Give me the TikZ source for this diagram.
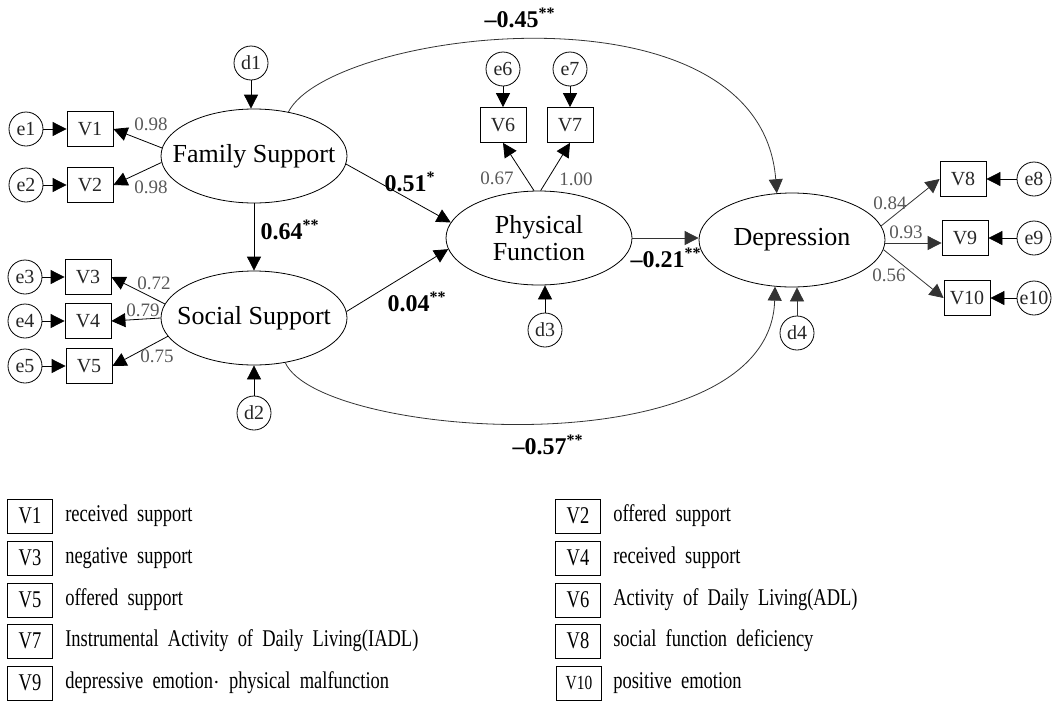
\documentclass[tikz,border=0pt]{standalone}
\usepackage{fontspec}
\setmainfont{Liberation Serif}
\newfontfamily\legendfont[FakeStretch=0.77,WordSpace=2]{Liberation Serif}
\usetikzlibrary{shapes.geometric,arrows.meta,positioning,calc}
\tikzset{%
  >={Triangle[length=7pt,width=7pt]},
  latent/.style={draw,ellipse,minimum width=93pt,minimum height=47pt,inner xsep=-12pt,inner ysep=0pt,
    align=center,font=\fontsize{13}{13.5}\selectfont},
  observed/.style={draw,rectangle,minimum width=23pt,minimum height=17.5pt,inner sep=0pt,
    text=black!85,font=\fontsize{10}{12}\selectfont},
  err/.style={draw,circle,minimum size=17pt,inner sep=0pt,text=black!85,font=\fontsize{10}{12}\selectfont},
  load/.style={text=black!65,inner sep=0pt,font=\fontsize{9.5}{11}\selectfont},
  coef/.style={inner sep=0pt,font=\bfseries\fontsize{12}{14}\selectfont},
  dep line/.style={draw=black!80,->},
  legbox/.style={draw,rectangle,minimum width=22.5pt,minimum height=17pt,inner sep=0pt,
    font=\legendfont\fontsize{12}{14}\selectfont},
  legtext/.style={inner sep=0pt,anchor=west,font=\legendfont\fontsize{12}{14}\selectfont}
}

\begin{document}
\begin{tikzpicture}[x=0.5pt,y=-0.5pt]
	\useasboundingbox (0,0) rectangle (1054,702);
	
	% latent variables
	\node[latent] (fs) at (254,156) {Family Support};
	\node[latent] (ss) at (254,318) {Social Support};
	\node[latent] (pf) at (539,238) {Physical\\Function};
	\node[latent] (dep) at (792,240) {Depression};
	
	% indicators and their errors
	\foreach \n/\x/\y in {1/90/129,2/90/185,3/88/277,4/88/321,5/89/366,6/503/125,7/570/125,8/963/179,9/965/238,10/967/298} {%
		\node[observed] (v\n) at (\x,\y) {V\n};
	}
	\foreach \n/\x/\y in {1/26/129,2/26/185,3/25/277,4/25/321,5/25/366,6/503/69,7/570/69,8/1034/179,9/1034/238,10/1034/298} {%
		\node[err] (e\n) at (\x,\y) {e\n};
	}
	\foreach \n/\x/\y in {1/251/63,2/254/413,3/545/330,4/797/333} {%
		\node[err] (d\n) at (\x,\y) {d\n};
	}
	
	\foreach \n in {1,...,10} {%
		\draw[->] (e\n) -- (v\n);
	}
	\draw[->] (d1) -- (d1.south |- fs.north);
	\draw[->] (d2) -- (d2.north |- ss.south);
	\draw[->] (d3) -- (d3.north |- pf.south);
	\draw[dep line] (d4) -- (d4.north |- dep.south);
	
	% measurement part
	\draw[->] (fs.175) -- (v1.east);
	\draw[->] (fs.184) -- (v2.east);
	\draw[->] (ss.171) -- (v3.east);
	\draw[->] (ss.180) -- (v4.east);
	\draw[->] (ss.192) -- (v5.east);
	\draw[->] (pf.96) -- (v6.south);
	\draw[->] (pf.88) -- (v7.south);
	\draw[dep line] (dep.9) -- (v8.west);
	\draw[dep line] ([yshift=-1.5pt]dep.east) -- ([yshift=-1.5pt]dep.east -| v9.west);
	\draw[dep line] (dep.354) -- (v10.west);
	
	\begin{scope}[every node/.style={load}]
	\node (l1) at (151,124) {0.98};
	\node (l2) at (151,187) {0.98};
	\node (l3) at (154,283) {0.72};
	\node (l4) at (143,310) {0.79};
	\node (l5) at (157,356) {0.75};
	\node (l6) at (497,178) {0.67};
	\node (l7) at (576,179) {1.00};
	\node (l8) at (890,203) {0.84};
	\node (l9) at (906,232) {0.93};
	\node (l10) at (889,275) {0.56};
	\end{scope}
	
	% structural part
	\draw[->] (fs.south) -- (ss.north);
	\draw[->] (fs.355) -- (pf.170);
	\draw[->] (ss.4) -- (pf.187);
	\draw[dep line] (pf.east) -- (pf.east -| dep.west);
	\draw[dep line] (fs.52) .. controls (330,30) and (760,-25) .. (dep.108);
	\draw[dep line] (ss.-55) .. controls (320,440) and (770,470) .. (dep.250);
	
	\begin{scope}[every node/.style={coef}]
	\node (c1) at (520,18) {--0.45\textsuperscript{**}};
	\node (c2) at (410,182) {0.51\textsuperscript{*}};
	\node (c3) at (290,230) {0.64\textsuperscript{**}};
	\node (c4) at (417,302) {0.04\textsuperscript{**}};
	\node (c5) at (666,258) {--0.21\textsuperscript{**}};
	\node (c6) at (548,445) {--0.57\textsuperscript{**}};
	\end{scope}
	
	% legend
	\foreach \v/\t/\x/\y in {1/received support/30/516,3/negative support/30/558,5/offered support/30/600,%
		7/Instrumental Activity of Daily Living(IADL)/30/641,9/depressive emotion$\cdot$ physical malfunction/30/683,%
		2/offered support/578/516,4/received support/578/558,6/Activity of Daily Living(ADL)/578/600,%
		8/social function deficiency/578/641} {%
		\node[legbox] (k\v) at (\x,\y) {V\v};
		\node[legtext,right=6pt of k\v] (kt\v) {\t};
	}
	\node[legbox,font=\legendfont\fontsize{10}{12}\selectfont] (k10) at (579,683) {V10};
	\node[legtext,right=5.5pt of k10] (kt10) {positive emotion};
\end{tikzpicture}
\end{document}
